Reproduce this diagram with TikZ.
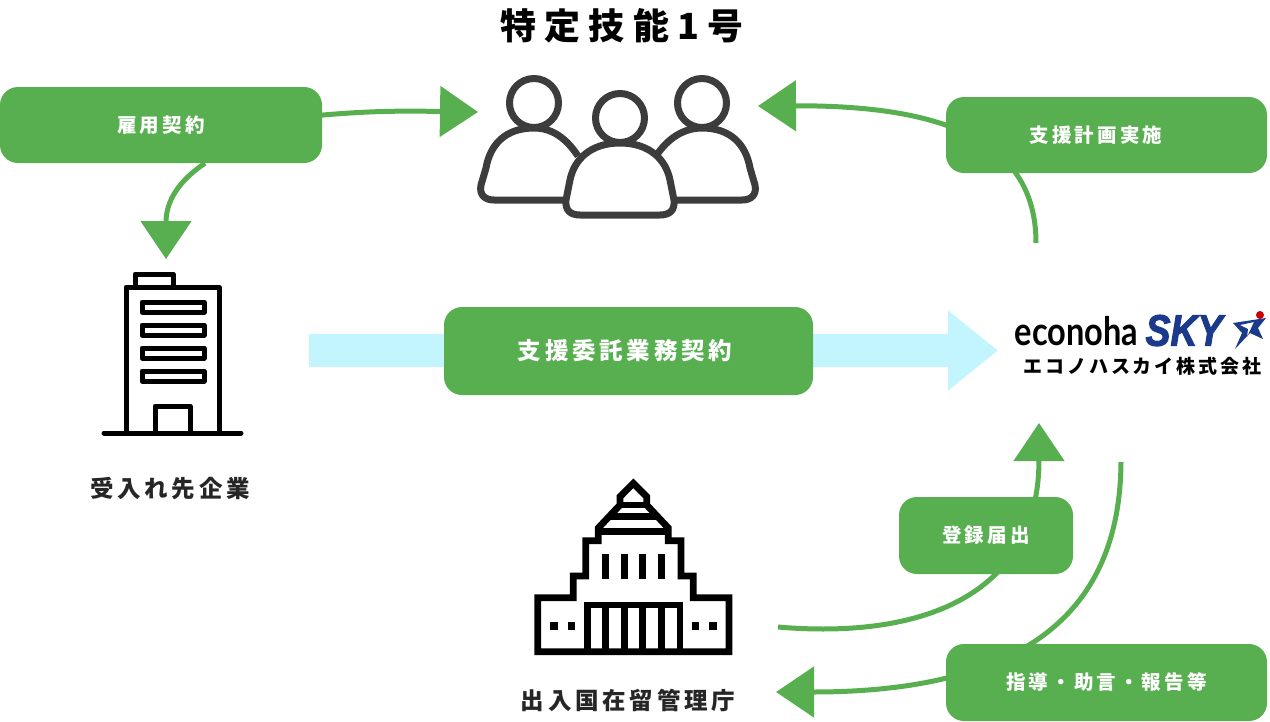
\documentclass[tikz,border=0pt]{standalone}
\usepackage{fontspec}
\usepackage[dvipsnames]{xcolor}
\usetikzlibrary{arrows.meta,backgrounds}
\newfontfamily\jpfont{Noto Sans CJK JP}
\newfontfamily\econofont{Lato}
\newfontfamily\skyfont[FakeBold=2.5]{Liberation Sans}
\definecolor{boxgreen}{HTML}{58AF50}
\definecolor{palecyan}{HTML}{C3F5FF}
\definecolor{navysky}{HTML}{1C3A8C}
\definecolor{peoplegray}{HTML}{3C3C3C}

\tikzset{
    greenbox/.style = {fill = boxgreen, rounded corners = 18pt, text = white, inner sep = 0pt},
    smalllabel/.style = {greenbox, font = \jpfont\bfseries\fontsize{19.5}{20}\selectfont\addfontfeature{LetterSpace=16}},
    biglabel/.style = {font = \jpfont\bfseries\fontsize{23.5}{24}\selectfont\addfontfeature{LetterSpace=16}},
    curveline/.style = {draw = boxgreen, line width = 5pt},
    bigtip/.style = {-{Triangle[length = 38pt, width = 50pt]}}
}

\begin{document}
\begin{tikzpicture}[x=1pt, y=-1pt]
    \useasboundingbox (0,0) rectangle (1270,721);

    \coordinate (peopleleft) at (478,112);
    \coordinate (peopleright) at (758,106);
    \coordinate (companytop) at (166,259);
    \coordinate (skytop) at (1036,243);
    \coordinate (skybottom) at (1121,462);
    \coordinate (skyunder) at (1039,423);
    \coordinate (agencyright) at (778,627);
    \coordinate (agencylabel) at (776,692);
    \coordinate (trustfrom) at (309,350.5);
    \coordinate (trustto) at (998,350.5);

    \node[minimum width = 322pt, minimum height = 76pt, smalllabel] (employ) at (161,125) {\raisebox{2pt}{雇用契約}};
    \node[minimum width = 321pt, minimum height = 76pt, smalllabel] (support) at (1106.5,135) {\hspace*{-21pt}支援計画実施};
    \node[greenbox, minimum width = 369pt, minimum height = 88pt, biglabel] (trust) at (628.5,351) {\hspace*{-7pt}支援委託業務契約};
    \node[minimum width = 174pt, minimum height = 77pt, smalllabel] (register) at (986,535.5) {登録届出};
    \node[minimum width = 321pt, minimum height = 77pt, smalllabel] (guidance) at (1106.5,682.5) {指導・助言・報告等};

    \begin{scope}[on background layer]
        \draw[line width = 33pt, palecyan, -{Triangle[length = 50pt, width = 77pt]}] (trustfrom) -- (trustto);
        \draw[curveline, bigtip] ([shift={(-20pt,8pt)}]employ.east) .. controls (370,110) and (410,111) .. (peopleleft);
        \draw[curveline, bigtip] ([xshift=44pt]employ.south) .. controls (180,180) and (166,200) .. (companytop);
        \draw[curveline, bigtip] (skytop) .. controls (1036,150) and (960,105) .. (peopleright);
        \draw[curveline, bigtip] (agencyright) .. controls (930,640) and (1039,590) .. (skyunder);
        \draw[curveline, bigtip] (skybottom) .. controls (1120,600) and (1040,692) .. (agencylabel);
    \end{scope}

    \node[font = \jpfont\bfseries\fontsize{36}{36}\selectfont\addfontfeature{LetterSpace=23}, text = black] (title) at (622,26) {特定技能1号};
    \node[biglabel, text = black!85] (companyname) at (170,489) {受入れ先企業};
    \node[biglabel, text = black!85] (agencyname) at (628,700) {出入国在留管理庁};

    \begin{scope}[draw = peoplegray, line width = 7pt]
        \draw (534,103) circle (24.5);
        \draw (702,103) circle (24.5);
        \draw (620,118) circle (24.5);
        \draw[line join = round] (578,156) .. controls (566,138) and (552,128) .. (534,128) .. controls (505,128) and (490,145) .. (486,168)
            -- (481,185) .. controls (479,195) and (485,200) .. (494,200) -- (565,200);
        \draw[line join = round] (656,156) .. controls (668,138) and (684,128) .. (702,128) .. controls (731,128) and (746,145) .. (750,168)
            -- (755,185) .. controls (757,195) and (751,200) .. (742,200) -- (675,200);
        \draw[fill = white] (620,143) .. controls (590,143) and (574,160) .. (570,180) -- (566,200)
            .. controls (565,210) and (570,215) .. (580,215) -- (660,215) .. controls (670,215) and (675,210) .. (674,200)
            -- (670,180) .. controls (666,160) and (650,143) .. (620,143) -- cycle;
    \end{scope}

    \begin{scope}[black, line width = 5pt, line join = round]
        \draw (135,287) -- (135,274) -- (173,274) -- (173,287);
        \draw (126,433) -- (126,287) -- (219,287) -- (219,433);
        \foreach \rowy in {302,325,348,371}
            \draw (142,\rowy) rectangle (204,\rowy+10);
        \draw (155,433) -- (155,406) -- (190,406) -- (190,433);
        \draw[line cap = round] (104,433) -- (241,433);
    \end{scope}

    \begin{scope}[black, line width = 6.8pt, line join = miter]
        \draw (537.7,651.7) -- (537.7,597.7) -- (573.3,597.7) -- (573.3,576) -- (585.7,576) -- (585.7,540.7)
            -- (598.3,540.7) -- (598.3,528) -- (620,505) -- (620,496.7) -- (633.3,483.3) -- (646.7,496.7) -- (646.7,505)
            -- (668.3,528) -- (668.3,540.7) -- (681,540.7) -- (681,576) -- (693.3,576) -- (693.3,597.7) -- (729,597.7)
            -- (729,651.7) -- cycle;
        \draw (598.3,531.7) -- (668.3,531.7);
        \draw (610,516.7) -- (656.6,516.7);
        \draw (620,505) -- (646.7,505);
        \draw (587.3,651.7) -- (587.3,605) -- (680,605) -- (680,651.7);
        \foreach \colx in {605.7,624.3,642.7,661.3} {
            \draw[line width = 7pt] (\colx,554) -- (\colx,579);
            \draw[line width = 7pt] (\colx,605) -- (\colx,651);
        }
        \foreach \winx in {550,567.5,691.7,709.3}
            \fill (\winx,622) rectangle (\winx+7.6,630);
    \end{scope}

    \node[inner sep = 0pt, font = \econofont\bfseries\fontsize{35}{35}\selectfont] (econo) at (1076.5,331) {\scalebox{0.93}[1.12]{econoha}};
    \node[inner sep = 0pt, text = navysky, font = \skyfont\bfseries\itshape\fontsize{44}{44}\selectfont] (sky) at (1184,330.5) {\scalebox{0.85}[1]{SKY}};
    \fill[navysky, even odd rule] (1233,323) -- (1266,318) -- (1258,328) -- (1263,339) -- (1250,333) -- (1235,349) -- (1242,333) -- cycle
        (1240,325) -- (1254,322) -- (1247,337) -- (1248,329) -- cycle;
    \fill[red!80!black] (1260,315) circle (4);
    \node[font = \jpfont\bfseries\fontsize{19}{19}\selectfont\addfontfeature{LetterSpace=15}, text = black] (econame) at (1142.5,366) {エコノハスカイ株式会社};
\end{tikzpicture}
\end{document}
